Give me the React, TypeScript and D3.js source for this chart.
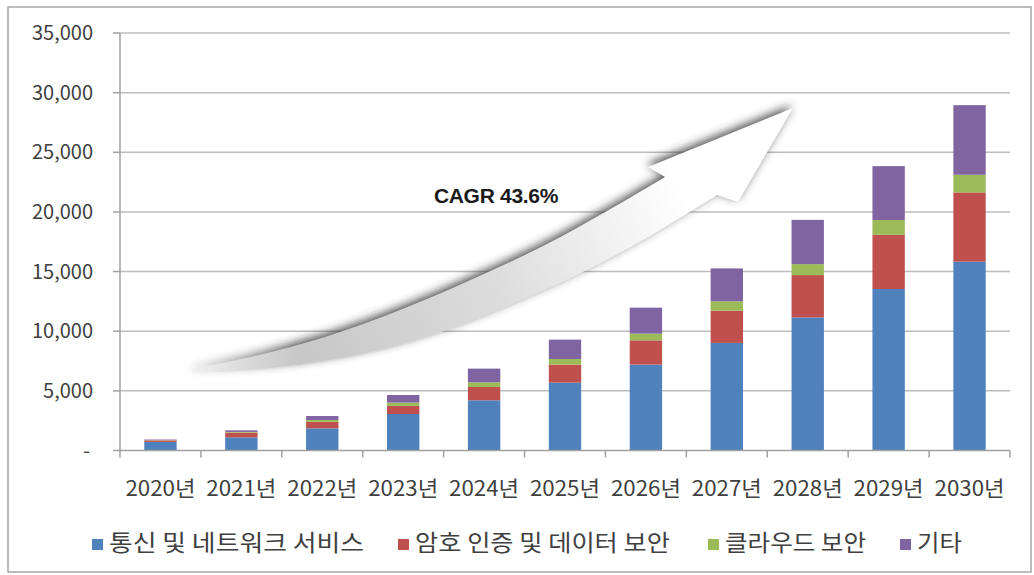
import React from 'react';
import * as d3 from 'd3';

// values (unit as in the original chart)
const years = ['2020년', '2021년', '2022년', '2023년', '2024년', '2025년', '2026년', '2027년', '2028년', '2029년', '2030년'];
const seriesNames = ['통신 및 네트워크 서비스', '암호 인증 및 데이터 보안', '클라우드 보안', '기타'];
const network = [720, 1105, 1860, 3060, 4210, 5690, 7200, 9020, 11160, 13540, 15830];
const crypto = [130, 390, 550, 680, 1115, 1510, 2035, 2705, 3545, 4550, 5805];
const cloud = [25, 60, 150, 280, 390, 470, 560, 780, 920, 1230, 1480];
const other = [45, 135, 330, 630, 1150, 1625, 2180, 2760, 3710, 4520, 5835];
const yTicks = [0, 5000, 10000, 15000, 20000, 25000, 30000, 35000];
const colors = ['#4f81bd', '#c0504d', '#9bbb59', '#8064a2'];
const cagrLabel = 'CAGR 43.6%';

// decorative growth arrow outline (pixel space)
const arrowUpper: [number, number][] = [[192, 369], [255, 356], [325, 337], [400, 310], [475, 278], [545, 245], [607, 211], [665, 177]];
const arrowHead: [number, number][] = [[648, 167], [793, 108], [738, 202]];
const arrowLower: [number, number][] = [[717, 195], [650, 236], [583, 272], [517, 302], [450, 329], [383, 349], [317, 362], [250, 370], [192, 373]];

const W = 1034;
const H = 575;
const plot = { left: 120, right: 1010, top: 33, bottom: 450.5 };
const font = "'Noto Sans CJK KR', 'Noto Sans', sans-serif";

export default function App() {
  const x = d3.scaleBand<string>()
    .domain(years)
    .range([plot.left, plot.right])
    .paddingInner(0.6)
    .paddingOuter(0.3);
  const y = d3.scaleLinear().domain([0, 35000]).range([plot.bottom, plot.top]);

  const rows = years.map((yr, i) => ({ year: yr, s0: network[i], s1: crypto[i], s2: cloud[i], s3: other[i] }));
  const stacked = d3.stack<any>().keys(['s0', 's1', 's2', 's3'])(rows);

  const step = x.step();
  const boundaries = d3.range(years.length + 1).map(i => plot.left + i * step);

  const edge = d3.line().curve(d3.curveCatmullRom);
  const upper = edge(arrowUpper) as string;
  const lower = (edge(arrowLower) as string).replace(/^M/, 'L');
  const head = arrowHead.map(p => `L${p[0]},${p[1]}`).join('');
  const arrowPath = upper + head + lower + 'Z';

  const fmt = d3.format(',');
  const legendX = [92, 398, 708, 900];
  const legendLen = [255, 255, 141, 45];

  return (
    <svg width={W} height={H} style={{ position: 'absolute', left: 0, top: 0, background: '#fff' }}>
      <defs>
        <filter id="blur" x="-20%" y="-20%" width="140%" height="140%">
          <feGaussianBlur stdDeviation="5" />
        </filter>
        <linearGradient id="arrowFill" gradientUnits="userSpaceOnUse" x1="200" y1="370" x2="760" y2="140">
          <stop offset="0" stopColor="#bdbdbd" />
          <stop offset="0.5" stopColor="#dcdcdc" />
          <stop offset="0.85" stopColor="#ffffff" />
          <stop offset="1" stopColor="#ffffff" />
        </linearGradient>
        <linearGradient id="fadeGrad" gradientUnits="userSpaceOnUse" x1="165" y1="0" x2="300" y2="0">
          <stop offset="0" stopColor="#000" />
          <stop offset="1" stopColor="#fff" />
        </linearGradient>
        <mask id="fade">
          <rect x={0} y={0} width={W} height={H} fill="url(#fadeGrad)" />
        </mask>
      </defs>

      <rect x={8} y={7} width={1023} height={565} fill="#fff" stroke="#a6a6a6" strokeWidth={1.5} />

      {/* gridlines */}
      {yTicks.filter(t => t > 0).map(t => (
        <line key={t} x1={plot.left} x2={plot.right} y1={y(t)} y2={y(t)} stroke="#bcbcbc" strokeWidth={1.5} />
      ))}

      {/* growth arrow */}
      <g mask="url(#fade)">
        <path d={arrowPath} transform="translate(-1,-3)" fill="#333" opacity={0.85} filter="url(#blur)" />
        <path d={arrowPath} fill="url(#arrowFill)" />
      </g>
      <text x={496} y={203} textAnchor="middle" fontFamily="'Liberation Sans', Arial, sans-serif" fontWeight="bold" fontSize={21} fill="#1a1a1a" letterSpacing="-0.3">
        {cagrLabel}
      </text>

      {/* bars */}
      {stacked.map((layer, si) => (
        <g key={si} fill={colors[si]}>
          {layer.map((d, i) => (
            <rect key={i} x={x(years[i])} width={x.bandwidth()} y={y(d[1])} height={y(d[0]) - y(d[1])} />
          ))}
        </g>
      ))}

      {/* y axis */}
      <line x1={plot.left} x2={plot.left} y1={plot.top} y2={plot.bottom} stroke="#a0a0a0" strokeWidth={1.5} />
      {yTicks.map(t => (
        <g key={t}>
          <line x1={plot.left - 7} x2={plot.left} y1={y(t)} y2={y(t)} stroke="#a0a0a0" strokeWidth={1.5} />
          <text x={t === 0 ? 90 : 93} y={y(t)} dy="0.36em" textAnchor="end" fontFamily={font} fontSize={20} fill="#404040">
            {t === 0 ? '-' : fmt(t)}
          </text>
        </g>
      ))}

      {/* x axis */}
      <line x1={plot.left} x2={plot.right} y1={plot.bottom} y2={plot.bottom} stroke="#a0a0a0" strokeWidth={1.5} />
      {boundaries.map((bx, i) => (
        <line key={i} x1={bx} x2={bx} y1={plot.bottom} y2={plot.bottom + 7} stroke="#a0a0a0" strokeWidth={1.5} />
      ))}
      {years.map(yr => (
        <text key={yr} x={(x(yr) as number) + x.bandwidth() / 2} y={496} textAnchor="middle" fontFamily={font} fontSize={21} fill="#404040" textLength={70} lengthAdjust="spacingAndGlyphs">
          {yr}
        </text>
      ))}

      {/* legend */}
      {seriesNames.map((name, i) => (
        <g key={name}>
          <rect x={legendX[i]} y={539} width={11} height={11} fill={colors[i]} />
          <text x={legendX[i] + 17} y={551} fontFamily={font} fontSize={23} fill="#404040" textLength={legendLen[i]} lengthAdjust="spacingAndGlyphs">
            {name}
          </text>
        </g>
      ))}
    </svg>
  );
}
